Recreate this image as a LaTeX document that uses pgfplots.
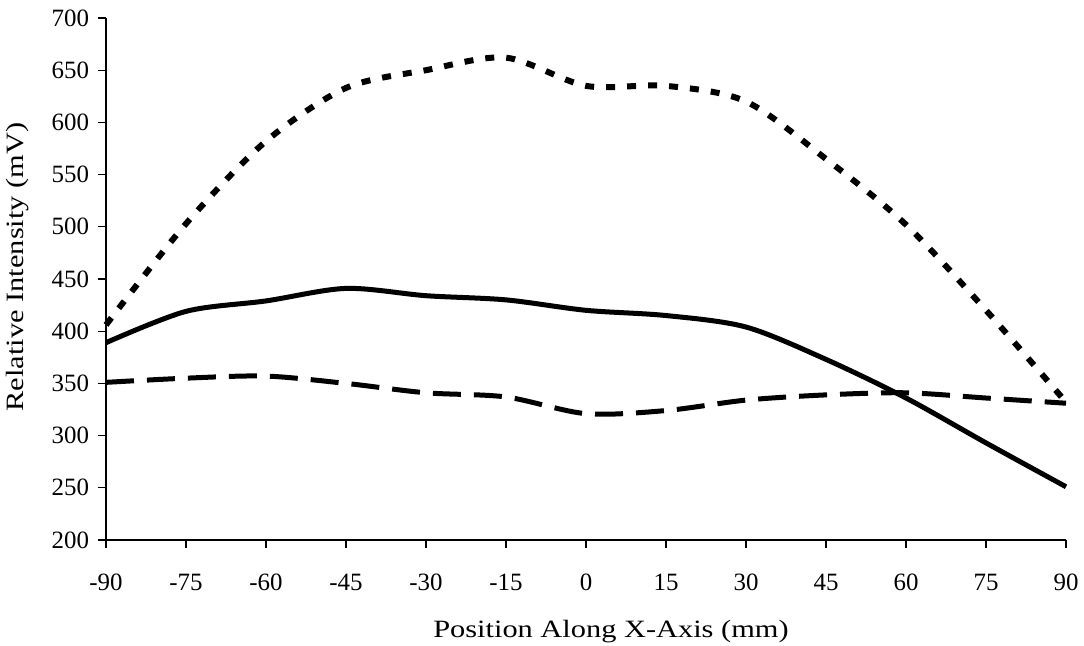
\documentclass[border=0pt]{standalone}
\usepackage{fontspec}
\setmainfont{Liberation Serif}
\newfontfamily\labelfont[FakeStretch=1.22]{Liberation Serif}
\usepackage{pgfplots}
\pgfplotsset{compat=1.18}
\begin{document}
\begin{tikzpicture}
\path[use as bounding box] (-53bp,-53bp) rectangle (489bp,270bp);
\begin{axis}[
  at={(0,0)}, anchor=south west,
  scale only axis, width=480bp, height=261bp,
  xmin=-90, xmax=90, ymin=200, ymax=700,
  xtick={-90,-75,...,90}, ytick={200,250,...,700},
  axis x line*=bottom, axis y line*=left,
  axis line style={line width=0.6pt, -},
  tick align=outside, major tick length=4bp,
  tick style={line width=0.6pt, black},
  /pgf/number format/assume math mode=true,
  tick label style={font=\fontsize{12.5}{14}\selectfont},
  xticklabel style={anchor=north, yshift=-9.5bp},
  yticklabel style={anchor=east, xshift=-1bp},
  xlabel={\labelfont\fontsize{12.5}{14}\selectfont Position Along X-Axis (mm)},
  ylabel={\labelfont\fontsize{12.5}{14}\selectfont Relative Intensity (mV)},
  xlabel style={at={(rel axis cs:0.526,0)}, anchor=center, yshift=-46bp},
  ylabel style={at={(rel axis cs:0,0.523)}, anchor=center, rotate=0, yshift=44bp},
  clip=false,
]
\addplot[black, line width=2.5bp, smooth, tension=0.5] coordinates {
(-90,389) (-75,419) (-60,429) (-45,441) (-30,434) (-15,430) (0,420) (15,415) (30,404) (45,373) (60,336) (75,293) (90,251)};
\addplot[black, line width=2.5bp, smooth, tension=0.5, dash pattern=on 14bp off 6.5bp] coordinates {
(-90,351) (-75,355) (-60,357) (-45,350) (-30,341) (-15,337) (0,321) (15,324) (30,334) (45,339) (60,341) (75,336) (90,331)};
\addplot[black, line width=3bp, smooth, tension=0.5, dash pattern=on 4.5bp off 6bp] coordinates {
(-90,406) (-75,503) (-60,582) (-45,633) (-30,650) (-15,662) (0,635) (15,635) (30,620) (45,565) (60,502) (75,420) (90,332)};
\end{axis}
\end{tikzpicture}
\end{document}
